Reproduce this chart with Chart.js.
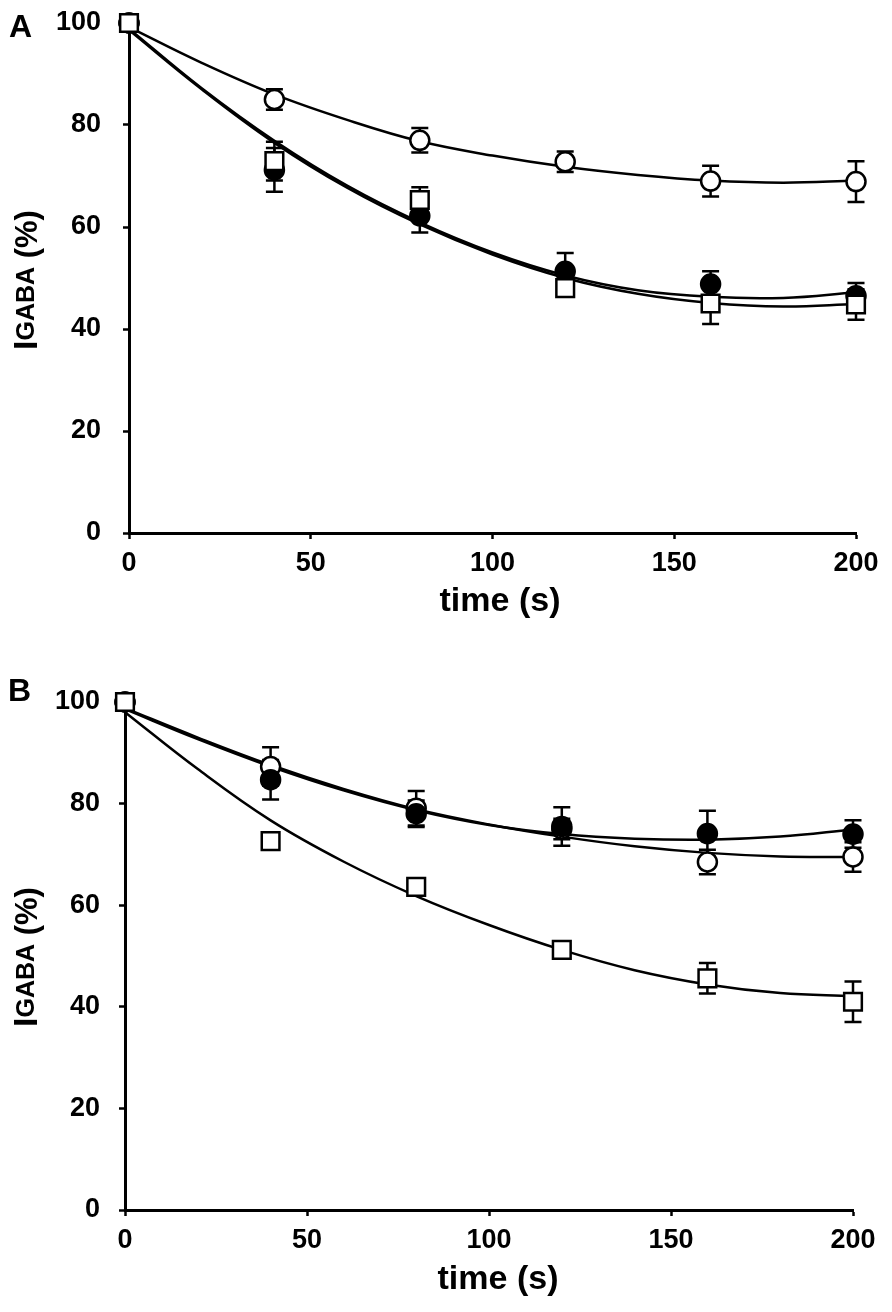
<!DOCTYPE html>
<html><head><meta charset="utf-8">
<script src="https://cdn.jsdelivr.net/npm/chart.js@4.4.1/dist/chart.umd.min.js"></script>
<style>
html,body{margin:0;padding:0;background:#fff;}
#wrap{position:relative;width:892px;height:1312px;background:#fff;}
.panel{position:absolute;left:0;width:892px;height:656px;}
</style></head>
<body><div id="wrap">
<div class="panel" style="top:0"><canvas id="chartA"></canvas></div>
<div class="panel" style="top:656px"><canvas id="chartB"></canvas></div>
</div>
<script>
// ---------- data ----------
const timePoints = [0, 40, 80, 120, 160, 200];
const fitTimes = [0, 20, 40, 60, 80, 100, 120, 140, 160, 180, 200];
const xTickValues = [0, 50, 100, 150, 200];
const yTickValues = [0, 20, 40, 60, 80, 100];
const xAxisTitle = 'time (s)';
const yAxisTitleParts = ['I', 'GABA', ' (%)'];

// Panel A
const openCircleA = [100, 85.0, 77.0, 72.8, 69.0, 68.9];
const openCircleErrA = [0, 2.0, 2.4, 2.0, 3.0, 4.0];
const filledCircleA = [100, 71.2, 62.2, 51.3, 48.8, 46.5];
const filledCircleErrA = [0, 4.3, 3.3, 3.6, 2.5, 2.5];
const openSquareA = [100, 72.9, 65.3, 48.0, 45.0, 44.8];
const openSquareErrA = [0, 3.8, 2.5, 1.5, 4.0, 3.0];
const fitOpenCircleA = [99.2, 92.2, 86.0, 81.0, 76.8, 74.0, 71.8, 70.2, 69.1, 68.7, 69.1];
const fitFilledCircleA = [98.9, 87.2, 76.9, 68.1, 60.9, 55.0, 50.5, 47.6, 46.3, 46.1, 47.2];
const fitOpenSquareA = [98.6, 87.0, 76.5, 67.7, 60.5, 54.6, 50.0, 46.9, 45.1, 44.4, 44.9];

// Panel B
const openCircleB = [100, 87.3, 79.1, 75.0, 68.5, 69.5];
const openCircleErrB = [0, 3.8, 3.4, 2.0, 2.4, 2.9];
const filledCircleB = [100, 84.7, 78.0, 75.5, 74.1, 74.0];
const filledCircleErrB = [0, 3.9, 2.6, 3.8, 4.5, 2.7];
const openSquareB = [100, 72.6, 63.6, 51.2, 45.6, 41.0];
const openSquareErrB = [0, 1.0, 1.5, 0.8, 3.0, 4.0];
const fitOpenCircleB = [98.8, 93.0, 87.6, 82.9, 78.9, 75.9, 73.5, 71.6, 70.3, 69.6, 69.5];
const fitFilledCircleB = [98.6, 92.7, 87.3, 82.6, 78.7, 75.8, 74.0, 73.1, 72.9, 73.5, 74.9];
const fitOpenSquareB = [98.0, 86.8, 76.7, 68.6, 61.8, 56.1, 51.2, 47.2, 44.4, 42.7, 42.1];

// ---------- helpers ----------
const FONT = "'Liberation Sans', Arial, Helvetica, sans-serif";
const pts = (xs, ys) => xs.map((x, i) => ({x: x, y: ys[i]}));

const errorBarPlugin = {
  id: 'errorBars',
  beforeDatasetsDraw(chart) {
    const ctx = chart.ctx, ys = chart.scales.y, xs = chart.scales.x;
    ctx.save();
    ctx.strokeStyle = '#000';
    ctx.lineWidth = 2.5;
    chart.data.datasets.forEach((ds) => {
      if (!ds.errors) return;
      ds.data.forEach((p, i) => {
        const e = ds.errors[i];
        if (!e) return;
        const x = xs.getPixelForValue(p.x);
        const yt = ys.getPixelForValue(p.y + e);
        const yb = ys.getPixelForValue(p.y - e);
        const cap = 8.5;
        ctx.beginPath();
        ctx.moveTo(x, yt); ctx.lineTo(x, yb);
        ctx.moveTo(x - cap, yt); ctx.lineTo(x + cap, yt);
        ctx.moveTo(x - cap, yb); ctx.lineTo(x + cap, yb);
        ctx.stroke();
      });
    });
    ctx.restore();
  }
};

const textPlugin = {
  id: 'panelText',
  afterDraw(chart, args, opts) {
    const ctx = chart.ctx;
    ctx.save();
    ctx.fillStyle = '#000';
    // panel letter
    ctx.font = 'bold 32px ' + FONT;
    ctx.textAlign = 'left';
    ctx.textBaseline = 'alphabetic';
    ctx.fillText(opts.letter, opts.letterX, opts.letterY);
    // x title
    ctx.font = 'bold 34px ' + FONT;
    ctx.textAlign = 'center';
    ctx.textBaseline = 'middle';
    ctx.fillText(xAxisTitle, opts.xTitleX, opts.xTitleY);
    // y title (rotated, mixed sizes)
    const parts = [
      {t: yAxisTitleParts[0], size: 34, dy: 0},
      {t: yAxisTitleParts[1], size: 25, dy: -3},
      {t: yAxisTitleParts[2], size: 31, dy: 0}
    ];
    let total = 0;
    parts.forEach(p => { ctx.font = 'bold ' + p.size + 'px ' + FONT; p.w = ctx.measureText(p.t).width; total += p.w; });
    ctx.translate(opts.yTitleBaseX, opts.yTitleCenterY);
    ctx.rotate(-Math.PI / 2);
    ctx.textAlign = 'left';
    ctx.textBaseline = 'alphabetic';
    let x = -total / 2;
    parts.forEach(p => { ctx.font = 'bold ' + p.size + 'px ' + FONT; ctx.fillText(p.t, x, p.dy); x += p.w; });
    ctx.restore();
  }
};

function fitDataset(ys) {
  return {
    type: 'line', data: pts(fitTimes, ys), borderColor: '#000', borderWidth: 2.5,
    pointRadius: 0, tension: 0.4, fill: false, clip: false, order: 10
  };
}
function markerDataset(ys, errs, style, fillColor, order) {
  return {
    type: 'scatter', data: pts(timePoints, ys), errors: errs, showLine: false,
    pointStyle: style, pointRadius: style === 'rect' ? 12.5 : 9.5,
    pointBackgroundColor: fillColor, pointBorderColor: '#000', pointBorderWidth: 2.5,
    clip: false, order: order
  };
}

function makeChart(id, cfg) {
  const datasets = [
    fitDataset(cfg.fitOpen), fitDataset(cfg.fitFilled), fitDataset(cfg.fitSquare),
    markerDataset(cfg.open, cfg.openErr, 'circle', '#fff', 3),
    markerDataset(cfg.filled, cfg.filledErr, 'circle', '#000', 2),
    markerDataset(cfg.square, cfg.squareErr, 'rect', '#fff', 1)
  ];
  return new Chart(document.getElementById(id), {
    data: {datasets: datasets},
    plugins: [errorBarPlugin, textPlugin],
    options: {
      responsive: true, maintainAspectRatio: false, animation: false,
      events: [],
      layout: {autoPadding: false, padding: {left: 0, right: 892 - cfg.right, top: cfg.top, bottom: 0}},
      plugins: {
        legend: {display: false}, tooltip: {enabled: false},
        panelText: cfg.text
      },
      scales: {
        x: {
          type: 'linear', min: 0, max: 200,
          afterBuildTicks: (s) => { s.ticks = xTickValues.map(v => ({value: v})); },
          afterFit: (s) => { s.height = 656 - cfg.bottom; s.paddingLeft = 0; s.paddingRight = 0; },
          border: {display: true, color: '#000', width: 3},
          grid: {display: true, drawOnChartArea: false, drawTicks: true, tickLength: 6, tickWidth: 2.5, tickColor: '#000'},
          ticks: {color: '#000', font: {family: FONT, size: 27, weight: 'bold'}, padding: 8, maxRotation: 0}
        },
        y: {
          type: 'linear', min: 0, max: 100,
          afterBuildTicks: (s) => { s.ticks = yTickValues.map(v => ({value: v})); },
          afterFit: (s) => { s.width = cfg.left; s.paddingTop = 0; s.paddingBottom = 0; },
          border: {display: true, color: '#000', width: 3},
          grid: {display: true, drawOnChartArea: false, drawTicks: true, tickLength: 6, tickWidth: 2.5, tickColor: '#000'},
          ticks: {color: '#000', font: {family: FONT, size: 27, weight: 'bold'}, padding: cfg.yPad}
        }
      }
    }
  });
}

makeChart('chartA', {
  left: 129, right: 856, top: 23, bottom: 533, yPad: 22,
  open: openCircleA, openErr: openCircleErrA,
  filled: filledCircleA, filledErr: filledCircleErrA,
  square: openSquareA, squareErr: openSquareErrA,
  fitOpen: fitOpenCircleA, fitFilled: fitFilledCircleA, fitSquare: fitOpenSquareA,
  text: {letter: 'A', letterX: 9, letterY: 37, xTitleX: 500, xTitleY: 602, yTitleBaseX: 37, yTitleCenterY: 280}
});
makeChart('chartB', {
  left: 125, right: 853, top: 46, bottom: 554, yPad: 19,
  open: openCircleB, openErr: openCircleErrB,
  filled: filledCircleB, filledErr: filledCircleErrB,
  square: openSquareB, squareErr: openSquareErrB,
  fitOpen: fitOpenCircleB, fitFilled: fitFilledCircleB, fitSquare: fitOpenSquareB,
  text: {letter: 'B', letterX: 8, letterY: 45, xTitleX: 498, xTitleY: 624, yTitleBaseX: 37, yTitleCenterY: 301}
});
</script>
</body></html>
